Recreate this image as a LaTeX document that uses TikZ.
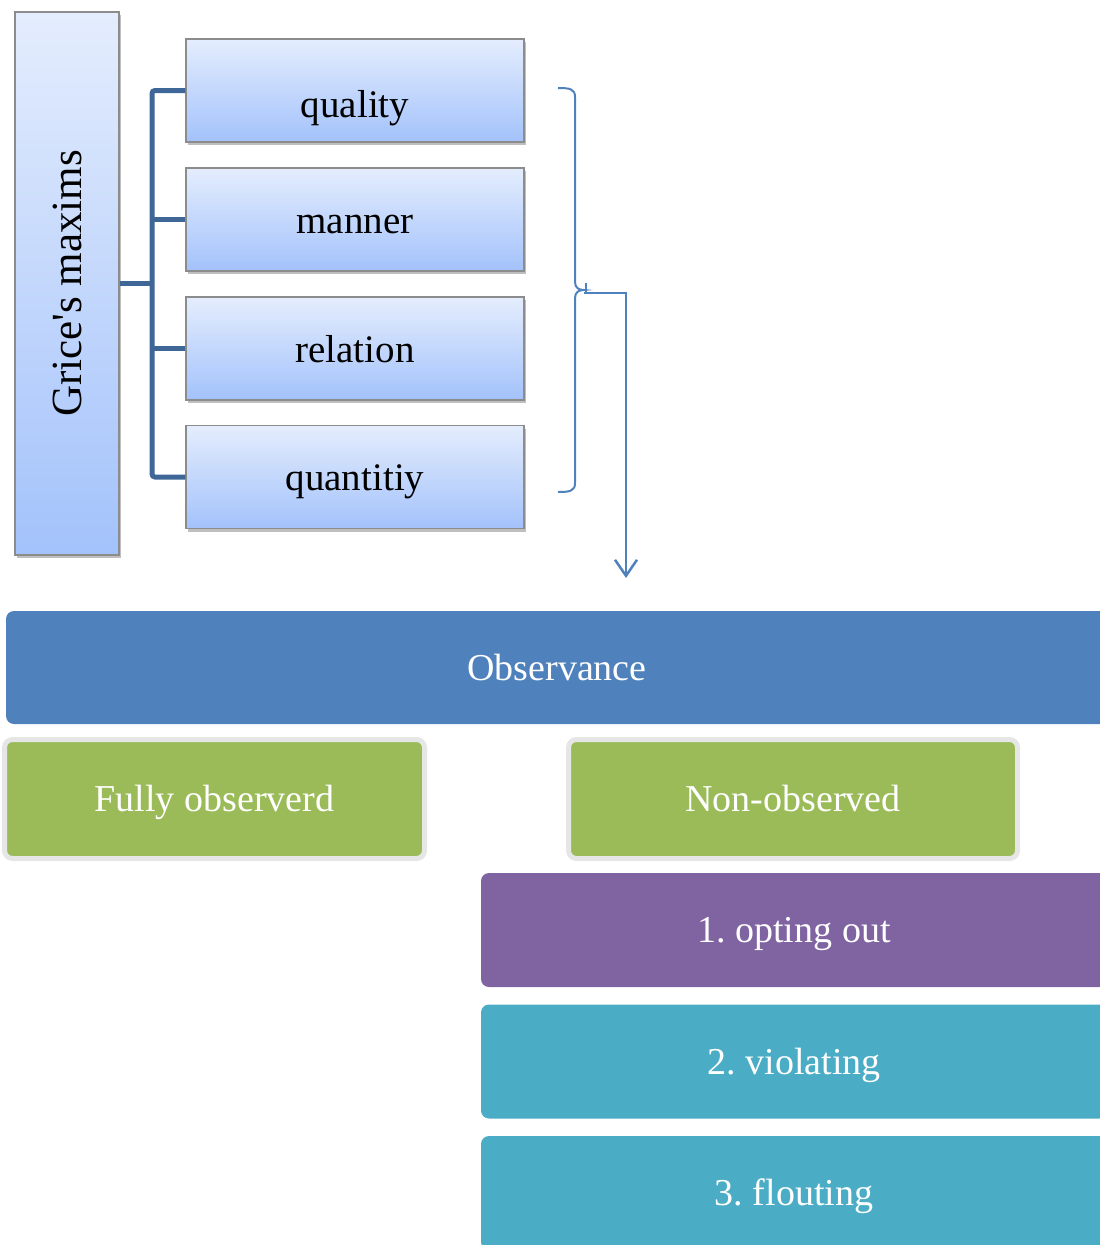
\documentclass[tikz,border=0pt]{standalone}
\usepackage{fontspec}
\setmainfont{Liberation Serif}
\usetikzlibrary{shadows,arrows.meta}
\definecolor{gradtop}{HTML}{E4EDFD}
\definecolor{gradbot}{HTML}{A3C2FB}
\definecolor{boxedge}{HTML}{8C8C8C}
\definecolor{trunkcol}{HTML}{3E6697}
\definecolor{obsblue}{HTML}{4F81BD}
\definecolor{greenfill}{HTML}{9BBB59}
\definecolor{greyrim}{HTML}{E6E6E6}
\definecolor{purplefill}{HTML}{8064A2}
\definecolor{aquafill}{HTML}{4BACC6}
\frenchspacing
\begin{document}
\begin{tikzpicture}[x=1pt,y=-1pt,
  gradbox/.style={draw=boxedge, line width=1.3pt, top color=gradtop, bottom color=gradbot,
    drop shadow={shadow xshift=1.5pt, shadow yshift=-3pt, opacity=0.25, fill=black},
    inner sep=0pt},
  childbox/.style={gradbox, minimum width=338pt, minimum height=103pt, text height=27pt, text depth=0pt,
    font=\fontsize{39}{45}\selectfont},
  trunk/.style={draw=trunkcol, line width=5pt, rounded corners=3pt},
  bracketline/.style={draw=obsblue, line width=2pt},
  bar/.style={rounded corners=8pt, inner sep=0pt, minimum height=114pt, text=white,
    text height=25pt, text depth=0pt, font=\fontsize{38}{44}\selectfont},
  rimbox/.style={bar, draw=greyrim, line width=5pt, fill=greenfill, minimum height=119pt}
]
\useasboundingbox (0,0) rectangle (1100,1245);
\clip (0,0) rectangle (1100,1245);

% Grice's maxims column
\node[gradbox, minimum width=104pt, minimum height=543pt] (grice) at (67,283.5) {};
\node[rotate=90, font=\fontsize{43}{49}\selectfont] (gricelbl) at (67,283.5) {Grice\textquotesingle s maxims};

% maxim boxes
\node[childbox, label={[yshift=-18pt, font=\fontsize{39}{45}\selectfont]center:quality}] (quality) at (355,90.5) {};
\node[childbox] (manner) at (355,219.5) {manner};
\node[childbox] (relation) at (355,348.5) {relation};
\node[childbox] (quantitiy) at (355,477) {quantitiy};

% tree connector
\coordinate (hub) at (152,283.5);
\draw[trunk] (grice.east) -- (hub);
\draw[trunk] (quality.west) -| (hub) |- (quantitiy.west);
\draw[trunk] (manner.west) -- (manner.west -| hub);
\draw[trunk] (relation.west) -- (relation.west -| hub);

% bracket
\coordinate (brtop) at (558,88);
\coordinate (brtip) at (584,290);
\coordinate (brbot) at (558,492);
\draw[bracketline] (brtop) .. controls (570,88) and (575,89) .. (575,97)
  -- (575,282) .. controls (575,288) and (579,290) .. (brtip)
  .. controls (579,290) and (575,292) .. (575,298)
  -- (575,483) .. controls (575,491) and (570,492) .. (brbot);
\coordinate (ticktop) at (586,283);
\coordinate (tickbot) at (586,293);
\draw[bracketline] (ticktop) -- (tickbot);

% arrow to Observance
\coordinate (arrbend) at (626,293);
\coordinate (arrend) at (626,578);
\draw[bracketline, line width=2.5pt, -{Straight Barb[length=16pt,width=22pt,line width=2.5pt]}]
  (brtip |- arrbend) -- (arrbend) -- (arrend);

% Observance bar
\node[bar, fill=obsblue, minimum width=1102pt, minimum height=113pt] (obs) at (557,667.5) {Observance};

% Fully / Non-observed
\node[rimbox, minimum width=420pt] (fully) at (214.5,799) {Fully observerd};
\node[rimbox, minimum width=449pt] (nonobs) at (793,799) {Non-observed};

% sub-types
\node[bar, fill=purplefill, minimum width=626pt] (opt) at (794,930) {1. opting out};
\node[bar, fill=aquafill, minimum width=626pt] (viol) at (794,1061.5) {2. violating};
\node[bar, fill=aquafill, minimum width=626pt] (flout) at (794,1193) {3. flouting};
\end{tikzpicture}
\end{document}
